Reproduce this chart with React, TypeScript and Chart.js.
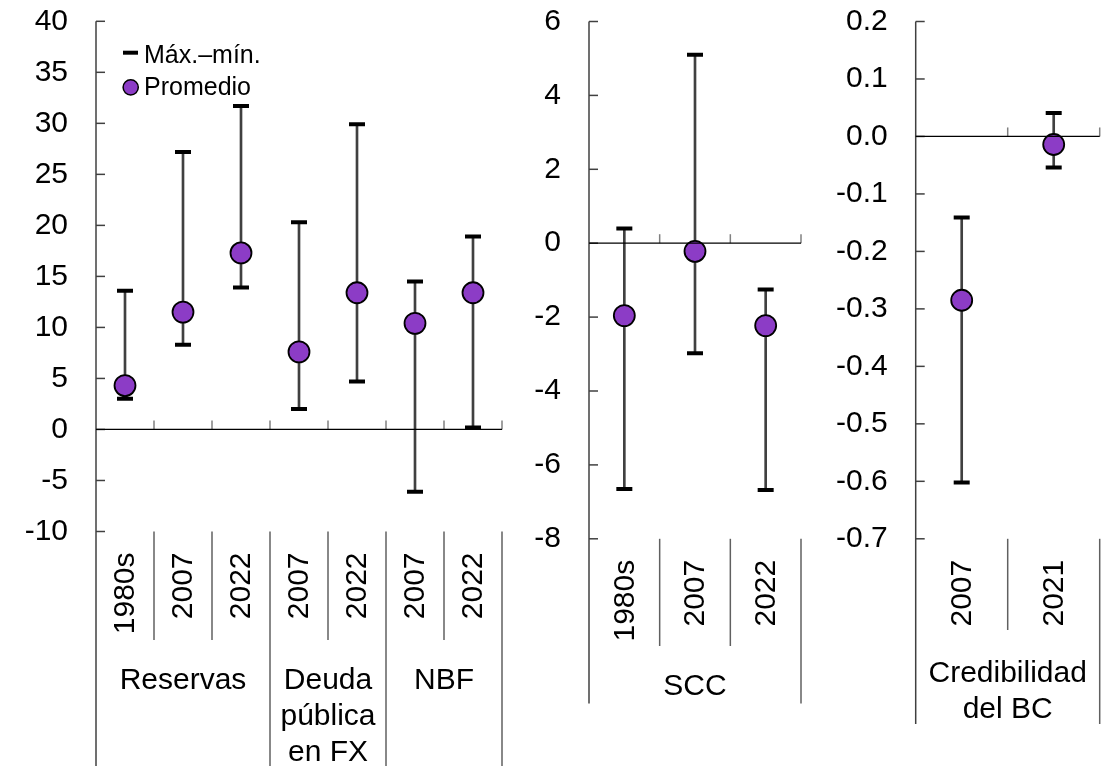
import React, { useEffect, useRef } from "react";
import { Chart, registerables } from "chart.js";

Chart.register(...registerables);

const FONT = "'Liberation Sans', Arial, sans-serif";
const PURPLE = "#8c3cc6";

// ---- Panel 1: Reservas / Deuda pública en FX / NBF
const p1Years = ["1980s", "2007", "2022", "2007", "2022", "2007", "2022"];
const p1Max = [13.6, 27.2, 31.7, 20.3, 29.9, 14.5, 18.9];
const p1Min = [3.0, 8.3, 13.9, 2.0, 4.7, -6.1, 0.2];
const p1Mean = [4.3, 11.5, 17.3, 7.6, 13.4, 10.4, 13.4];
const p1GroupLabels = [["Reservas"], ["Deuda", "pública", "en FX"], ["NBF"]];
const p1GroupSizes = [3, 2, 2];
const p1Axis = { min: -10, max: 40, step: 5 };

// ---- Panel 2: SCC
const p2Years = ["1980s", "2007", "2022"];
const p2Max = [0.4, 5.1, -1.25];
const p2Min = [-6.65, -2.98, -6.68];
const p2Mean = [-1.96, -0.22, -2.23];
const p2GroupLabels = [["SCC"]];
const p2GroupSizes = [3];
const p2Axis = { min: -8, max: 6, step: 2 };

// ---- Panel 3: Credibilidad del BC
const p3Years = ["2007", "2021"];
const p3Max = [-0.141, 0.041];
const p3Min = [-0.602, -0.054];
const p3Mean = [-0.285, -0.014];
const p3GroupLabels = [["Credibilidad", "del BC"]];
const p3GroupSizes = [2];
const p3Axis = { min: -0.7, max: 0.2, step: 0.1 };

const legendLabels = ["Máx.–mín.", "Promedio"];

type PanelCfg = {
  left: number;
  width: number;
  plotLeft: number;
  plotRight: number;
  top: number;
  bottom: number;
  years: string[];
  max: number[];
  min: number[];
  mean: number[];
  groupLabels: string[][];
  groupSizes: number[];
  axis: { min: number; max: number; step: number };
  decimals: number;
  innerBottom: number;
  outerBottom: number;
  groupBaseline: number;
  legend: boolean;
};

const H = 766;

const panels: PanelCfg[] = [
  {
    left: 0, width: 520, plotLeft: 96, plotRight: 502, top: 21.3, bottom: 531.5,
    years: p1Years, max: p1Max, min: p1Min, mean: p1Mean,
    groupLabels: p1GroupLabels, groupSizes: p1GroupSizes, axis: p1Axis, decimals: 0,
    innerBottom: 640, outerBottom: 766, groupBaseline: 688.5, legend: true,
  },
  {
    left: 520, width: 300, plotLeft: 69, plotRight: 281, top: 21.5, bottom: 538.8,
    years: p2Years, max: p2Max, min: p2Min, mean: p2Mean,
    groupLabels: p2GroupLabels, groupSizes: p2GroupSizes, axis: p2Axis, decimals: 0,
    innerBottom: 646, outerBottom: 703.5, groupBaseline: 694.5, legend: false,
  },
  {
    left: 820, width: 292, plotLeft: 95.7, plotRight: 280, top: 21.5, bottom: 538.8,
    years: p3Years, max: p3Max, min: p3Min, mean: p3Mean,
    groupLabels: p3GroupLabels, groupSizes: p3GroupSizes, axis: p3Axis, decimals: 1,
    innerBottom: 630, outerBottom: 724, groupBaseline: 681.5, legend: false,
  },
];

function Panel({ cfg }: { cfg: PanelCfg }) {
  const ref = useRef<HTMLCanvasElement | null>(null);

  useEffect(() => {
    if (!ref.current) return;
    const n = cfg.years.length;

    const decor = {
      id: "decor",
      afterDraw(chart: any) {
        const ctx: CanvasRenderingContext2D = chart.ctx;
        const { left, right, top, bottom } = chart.chartArea;
        const ys = chart.scales.y;
        const xs = chart.scales.x;
        const cw = (right - left) / n;
        const y0 = ys.getPixelForValue(0);
        ctx.save();

        // y axis line
        ctx.strokeStyle = "#404040";
        ctx.lineWidth = 1.5;
        ctx.beginPath();
        ctx.moveTo(left, top);
        ctx.lineTo(left, cfg.outerBottom);
        ctx.stroke();

        // y tick marks (inward)
        ys.ticks.forEach((t: any) => {
          const y = ys.getPixelForValue(t.value);
          ctx.beginPath();
          ctx.moveTo(left, y);
          ctx.lineTo(left + 9, y);
          ctx.stroke();
        });

        // category tick marks above the zero line
        ctx.strokeStyle = "#808080";
        for (let i = 1; i <= n; i++) {
          const x = left + i * cw;
          ctx.beginPath();
          ctx.moveTo(x, y0);
          ctx.lineTo(x, y0 - 9);
          ctx.stroke();
        }

        // zero line
        ctx.strokeStyle = "#000";
        ctx.lineWidth = 1.3;
        ctx.beginPath();
        ctx.moveTo(left, y0);
        ctx.lineTo(right, y0);
        ctx.stroke();

        // separators below the plot
        const groupEdges = new Set<number>();
        let acc = 0;
        cfg.groupSizes.forEach((s) => {
          acc += s;
          groupEdges.add(acc);
        });
        ctx.strokeStyle = "#606060";
        ctx.lineWidth = 1.5;
        for (let i = 1; i <= n; i++) {
          const x = left + i * cw;
          ctx.beginPath();
          ctx.moveTo(x, bottom);
          ctx.lineTo(x, groupEdges.has(i) ? cfg.outerBottom : cfg.innerBottom);
          ctx.stroke();
        }

        // year labels (rotated)
        ctx.fillStyle = "#000";
        ctx.font = `30px ${FONT}`;
        cfg.years.forEach((yr, i) => {
          ctx.save();
          ctx.translate(xs.getPixelForValue(i) + 1, bottom + 21);
          ctx.rotate(-Math.PI / 2);
          ctx.textAlign = "right";
          ctx.textBaseline = "middle";
          ctx.fillText(yr, 0, 0);
          ctx.restore();
        });

        // group labels
        ctx.textAlign = "center";
        ctx.textBaseline = "alphabetic";
        let start = 0;
        cfg.groupSizes.forEach((s, g) => {
          const cx = left + (start + s / 2) * cw;
          cfg.groupLabels[g].forEach((line, k) => {
            ctx.fillText(line, cx, cfg.groupBaseline + k * 36);
          });
          start += s;
        });

        // legend
        if (cfg.legend) {
          ctx.strokeStyle = "#000";
          ctx.lineWidth = 4;
          ctx.beginPath();
          ctx.moveTo(123, 52.7);
          ctx.lineTo(138, 52.7);
          ctx.stroke();
          ctx.beginPath();
          ctx.arc(130.7, 87.3, 7.6, 0, Math.PI * 2);
          ctx.fillStyle = PURPLE;
          ctx.fill();
          ctx.lineWidth = 1.5;
          ctx.stroke();
          ctx.fillStyle = "#000";
          ctx.font = `25px ${FONT}`;
          ctx.textAlign = "left";
          ctx.fillText(legendLabels[0], 144, 62.7);
          ctx.fillText(legendLabels[1], 144, 94.5);
        }
        ctx.restore();
      },
    };

    const padding = {
      top: cfg.top,
      left: 0,
      right: cfg.width - cfg.plotRight,
      bottom: H - cfg.bottom,
    };

    const chart = new Chart(ref.current, {
      type: "bar",
      data: {
        labels: cfg.years,
        datasets: [
          {
            type: "line",
            label: legendLabels[1],
            data: cfg.mean,
            showLine: false,
            pointStyle: "circle",
            pointRadius: 10.5,
            pointHoverRadius: 10.5,
            pointBackgroundColor: PURPLE,
            pointBorderColor: "#000",
            pointBorderWidth: 1.8,
            order: 0,
          } as any,
          {
            type: "line",
            label: "Máx.",
            data: cfg.max,
            showLine: false,
            pointStyle: "line",
            pointRadius: 8,
            pointBorderColor: "#000",
            pointBorderWidth: 4,
            order: 1,
          } as any,
          {
            type: "line",
            label: "mín.",
            data: cfg.min,
            showLine: false,
            pointStyle: "line",
            pointRadius: 8,
            pointBorderColor: "#000",
            pointBorderWidth: 4,
            order: 1,
          } as any,
          {
            type: "bar",
            label: "rango",
            data: cfg.years.map((_, i) => [cfg.min[i], cfg.max[i]]),
            backgroundColor: "#404040",
            borderWidth: 0,
            barThickness: 2,
            grouped: false,
            order: 2,
          } as any,
        ],
      },
      options: {
        responsive: false,
        animation: false,
        events: [],
        layout: { padding: { ...padding } },
        plugins: {
          legend: { display: false },
          tooltip: { enabled: false },
        },
        scales: {
          x: { type: "category", display: false, offset: true },
          y: {
            type: "linear",
            min: cfg.axis.min,
            max: cfg.axis.max,
            ticks: {
              stepSize: cfg.axis.step,
              color: "#000",
              padding: 28,
              font: { family: FONT, size: 30 },
              callback: (v: any) => Number(v).toFixed(cfg.decimals),
            },
            grid: { display: false, drawTicks: false },
            border: { display: false },
            afterFit: (s: any) => {
              s.width = cfg.plotLeft;
              s.paddingTop = 0;
              s.paddingBottom = 0;
            },
          },
        },
      } as any,
      plugins: [decor],
    });

    // Calibrate the layout padding so the plot area lands where the reference has it.
    for (let k = 0; k < 3; k++) {
      const ca = chart.chartArea;
      padding.top += cfg.top - ca.top;
      padding.bottom += ca.bottom - cfg.bottom;
      padding.right += ca.right - cfg.plotRight;
      (chart.options as any).layout.padding = { ...padding };
      chart.update();
    }

    return () => chart.destroy();
  }, [cfg]);

  return (
    <div style={{ position: "absolute", left: cfg.left, top: 0, width: cfg.width, height: H }}>
      <canvas ref={ref} width={cfg.width} height={H} style={{ width: cfg.width, height: H, display: "block" }} />
    </div>
  );
}

export default function App() {
  return (
    <div style={{ position: "absolute", left: 0, top: 0, width: 1112, height: H, background: "#fff", overflow: "hidden" }}>
      {panels.map((p, i) => (
        <Panel key={i} cfg={p} />
      ))}
    </div>
  );
}
